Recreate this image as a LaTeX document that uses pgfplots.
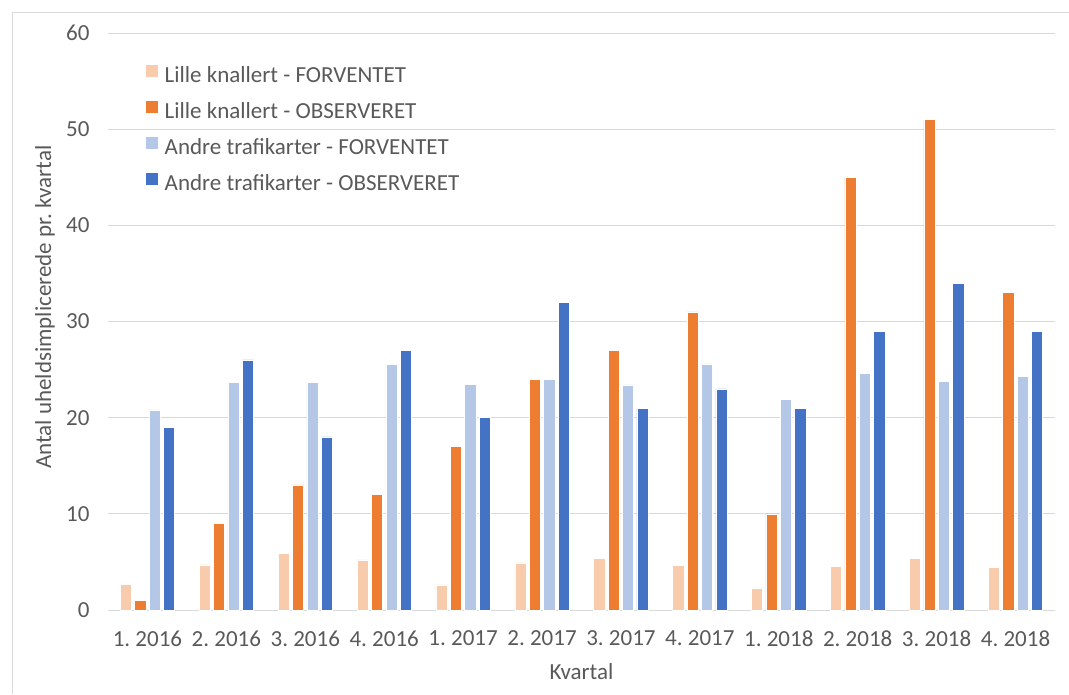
\documentclass[border=0pt]{standalone}
\usepackage{pgfplots}
\pgfplotsset{compat=1.18}
\usepackage{fontspec}
\setmainfont{Carlito}
\definecolor{lf}{HTML}{F8CBAD}
\definecolor{lo}{HTML}{ED7D31}
\definecolor{af}{HTML}{B4C7E7}
\definecolor{ao}{HTML}{4472C4}
\definecolor{txt}{HTML}{595959}
\definecolor{grd}{HTML}{D9D9D9}
\begin{document}
\frenchspacing
\begin{tikzpicture}[x=1pt,y=1pt]
\path[use as bounding box] (0,0) rectangle (1069,694);
\draw[grd, line width=0.8pt] (12,0) -- (12,682) -- (1069,682);
\begin{axis}[
  at={(108pt,84pt)}, anchor=south west,
  scale only axis, width=947pt, height=577pt,
  ybar=3.2pt, bar width=11.2pt,
  xmin=-0.5, xmax=11.5, ymin=0, ymax=60,
  xtick={0,...,11},
  xticklabels={1. 2016,2. 2016,3. 2016,4. 2016,1. 2017,2. 2017,3. 2017,4. 2017,1. 2018,2. 2018,3. 2018,4. 2018},
  ytick={0,10,...,60},
  ymajorgrids, major grid style={grd, line width=0.9pt},
  axis line style={draw=none},
  major tick length=0pt,
  /pgf/number format/assume math mode=true,
  tick label style={font=\fontsize{23}{27}\selectfont\frenchspacing, text=txt},
  yticklabel style={xshift=-15pt},
  xticklabel style={yshift=-17pt},
  xlabel={Kvartal}, ylabel={Antal uheldsimplicerede pr. kvartal},
  label style={font=\fontsize{23}{27}\selectfont, text=txt},
  xlabel style={at={(axis description cs:0.5,0)}, anchor=center, yshift=-62pt},
  ylabel style={at={(axis description cs:0,0.525)}, anchor=center, yshift=63pt},
  legend style={draw=none, fill=none, at={(0.039,0.947)}, anchor=north west,
    font=\fontsize{23}{27}\selectfont, text=txt, row sep=14pt, inner sep=0pt,
    nodes={inner xsep=6pt}},
  legend cell align=left,
  legend image code/.code={\fill[#1] (0pt,-2pt) rectangle (13pt,11pt);},
  every axis plot/.append style={draw=white, line width=0.6pt},
]
\addplot[fill=lf] coordinates {(0,2.7) (1,4.7) (2,5.9) (3,5.2) (4,2.6) (5,4.9) (6,5.4) (7,4.6) (8,2.3) (9,4.55) (10,5.4) (11,4.45)};
\addplot[fill=lo] coordinates {(0,1) (1,9) (2,13) (3,12) (4,17) (5,24) (6,27) (7,31) (8,10) (9,45) (10,51) (11,33)};
\addplot[fill=af] coordinates {(0,20.8) (1,23.7) (2,23.7) (3,25.5) (4,23.5) (5,24) (6,23.4) (7,25.6) (8,21.9) (9,24.6) (10,23.8) (11,24.3)};
\addplot[fill=ao] coordinates {(0,19) (1,26) (2,18) (3,27) (4,20) (5,32) (6,21) (7,23) (8,21) (9,29) (10,34) (11,29)};
\legend{Lille knallert - FORVENTET, Lille knallert - OBSERVERET, Andre trafikarter - FORVENTET, Andre trafikarter - OBSERVERET}
\end{axis}
\end{tikzpicture}
\end{document}
